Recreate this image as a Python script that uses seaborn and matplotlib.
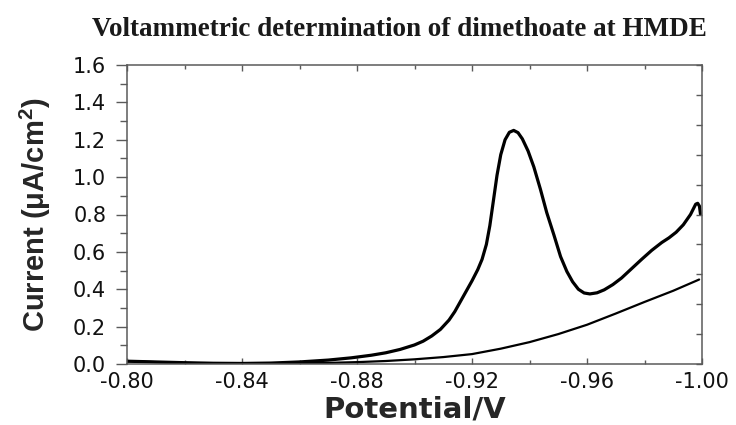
import numpy as np
import pandas as pd
import matplotlib
matplotlib.use("Agg")
import matplotlib.pyplot as plt
import seaborn as sns

# ---- data ----
sample_potential = [-0.800, -0.810, -0.820, -0.830, -0.840, -0.850, -0.860, -0.870,
                    -0.878, -0.885, -0.890, -0.895, -0.900, -0.903, -0.906, -0.909,
                    -0.912, -0.914, -0.916, -0.918, -0.920, -0.922, -0.9235, -0.9250,
                    -0.9262, -0.9275, -0.9287, -0.9300, -0.9315, -0.9330, -0.9345,
                    -0.9360, -0.9375, -0.9395, -0.9415, -0.9438, -0.9460, -0.9485,
                    -0.9508, -0.9530, -0.9550, -0.9570, -0.9590, -0.9610, -0.9635,
                    -0.9660, -0.9690, -0.9720, -0.9755, -0.9790, -0.9825, -0.9860,
                    -0.9885, -0.9910, -0.9935, -0.9960, -0.9978, -0.9985, -0.9991,
                    -0.9995]
sample_current = [0.015, 0.011, 0.007, 0.004, 0.003, 0.005, 0.011, 0.021,
                  0.033, 0.047, 0.060, 0.078, 0.102, 0.122, 0.150, 0.185,
                  0.235, 0.280, 0.335, 0.390, 0.445, 0.505, 0.560, 0.640,
                  0.740, 0.880, 1.010, 1.120, 1.200, 1.240, 1.250,
                  1.238, 1.205, 1.140, 1.055, 0.935, 0.810, 0.690,
                  0.575, 0.495, 0.440, 0.400, 0.380, 0.375, 0.381,
                  0.397, 0.425, 0.460, 0.510, 0.560, 0.608, 0.650,
                  0.675, 0.705, 0.745, 0.800, 0.855, 0.860, 0.845,
                  0.800]

blank_potential = [-0.800, -0.810, -0.820, -0.830, -0.840, -0.850, -0.860, -0.870,
                   -0.880, -0.890, -0.900, -0.910, -0.920, -0.930, -0.940, -0.950,
                   -0.960, -0.970, -0.980, -0.990, -0.999]
blank_current = [0.015, 0.010, 0.006, 0.003, 0.002, 0.002, 0.004, 0.006,
                 0.010, 0.016, 0.025, 0.037, 0.053, 0.082, 0.117, 0.160,
                 0.210, 0.270, 0.332, 0.392, 0.452]

x_ticks = [-0.80, -0.84, -0.88, -0.92, -0.96, -1.00]
y_ticks = [0.0, 0.2, 0.4, 0.6, 0.8, 1.0, 1.2, 1.4, 1.6]

title = "Voltammetric determination of dimethoate at HMDE"
x_label = "Potential/V"
y_label = "Current (\u03bcA/cm$^{\\mathbf{2}}$)"

# ---- style ----
sns.set_theme(style="ticks")
plt.rcParams["font.family"] = ["DejaVu Sans"]
plt.rcParams["axes.unicode_minus"] = False
plt.rcParams["mathtext.fontset"] = "custom"
plt.rcParams["mathtext.bf"] = "Liberation Sans:bold"
plt.rcParams["mathtext.rm"] = "Liberation Sans:bold"

fig = plt.figure(figsize=(7.36, 4.25), dpi=100)
ax = fig.add_axes([127 / 736, 1 - 364 / 425, (702 - 127) / 736, (364 - 65) / 425])

df_s = pd.DataFrame({"Potential": sample_potential, "Current": sample_current})
df_b = pd.DataFrame({"Potential": blank_potential, "Current": blank_current})
sns.lineplot(data=df_s, x="Potential", y="Current", ax=ax, color="black",
             linewidth=2.3, sort=False, estimator=None)
sns.lineplot(data=df_b, x="Potential", y="Current", ax=ax, color="black",
             linewidth=1.6, sort=False, estimator=None)

ax.set_xlim(-0.80, -1.00)
ax.set_ylim(0.0, 1.6)
ax.set_xticks(x_ticks)
ax.set_xticklabels([f"{v:.2f}" for v in x_ticks])
ax.set_yticks(y_ticks)
ax.set_yticklabels([f"{v:.1f}" for v in y_ticks])
ax.xaxis.set_minor_locator(matplotlib.ticker.MultipleLocator(0.02))
ax.yaxis.set_minor_locator(matplotlib.ticker.MultipleLocator(0.1))

spine_col = "#5a5a5a"
for s in ax.spines.values():
    s.set_color(spine_col)
    s.set_linewidth(1.1)
    s.set_visible(True)

ax.tick_params(axis="x", which="major", direction="in", length=4, width=1,
               color=spine_col, top=True, labelsize=15, pad=6, labelcolor="#111111")
ax.tick_params(axis="x", which="minor", direction="in", length=3, width=1,
               color=spine_col, top=True)
ax.tick_params(axis="y", which="major", direction="out", length=8, width=1,
               color=spine_col, labelsize=15, pad=7, labelcolor="#111111")
ax.tick_params(axis="y", which="minor", direction="out", length=5, width=1,
               color=spine_col)

ax2 = ax.twinx()
ax2.set_ylim(0.0, 1.6)
ax2.set_yticks(np.linspace(0, 1.6, 11))
ax2.tick_params(axis="y", direction="in", length=4, width=1, color=spine_col,
                labelright=False)
for s in ax2.spines.values():
    s.set_visible(False)

ax.set_xlabel(x_label, fontsize=21, fontweight="bold", labelpad=2,
              family=["DejaVu Sans"])
ax.set_ylabel(y_label, fontsize=21, fontweight="bold", labelpad=14,
              family=["Liberation Sans"])

fig.text(399 / 736, 1 - 30 / 425, title, ha="center", va="center",
         fontsize=19.5, fontweight="bold", family=["Liberation Serif"], color="#1a1a1a")

fig.savefig("out.png", dpi=100)
